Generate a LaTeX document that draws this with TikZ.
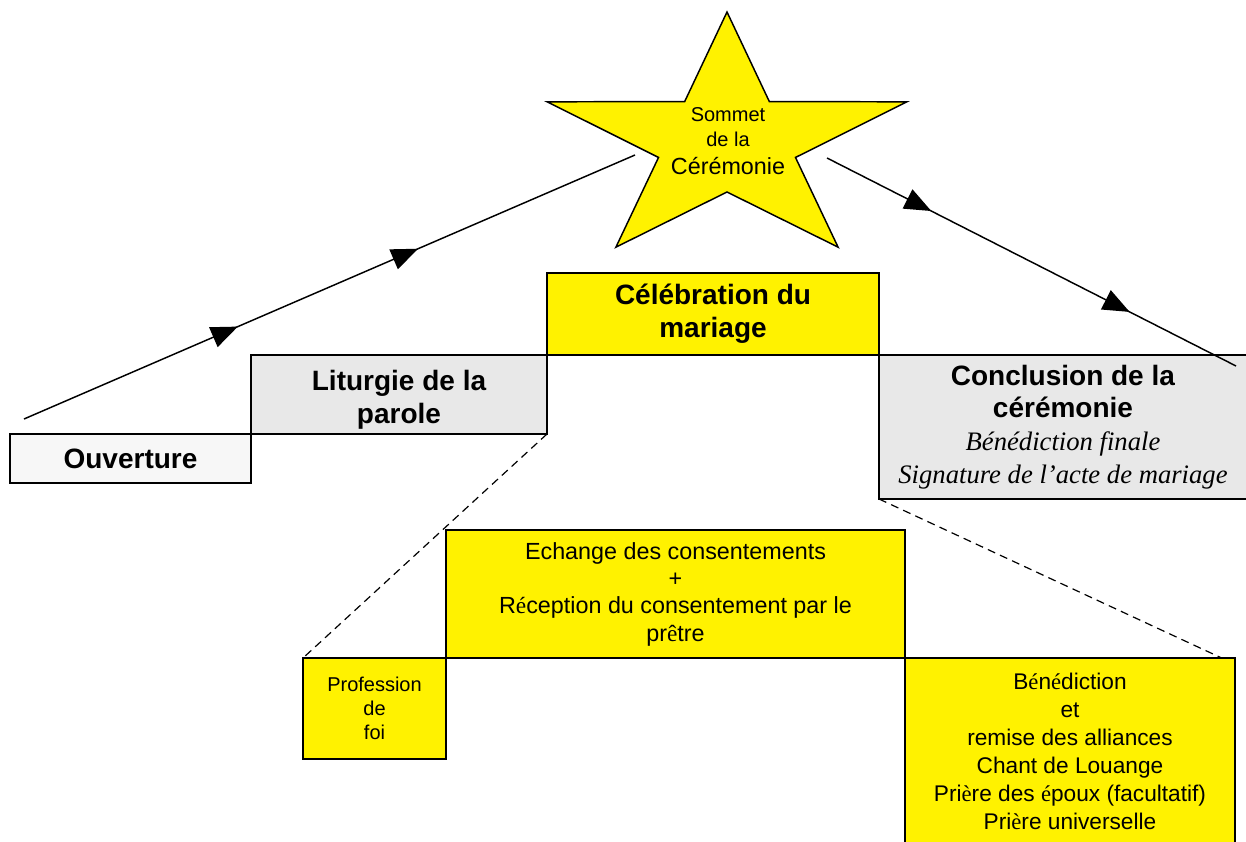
\documentclass[tikz,border=0pt]{standalone}
\usepackage{fontspec}
\setmainfont{Liberation Sans}
\newfontfamily\tnr{Liberation Serif}
\usepackage{tikz}
\usetikzlibrary{arrows.meta,decorations.markings}
\usetikzlibrary{positioning}
\newcommand{\acc}[1]{{\tnr #1}}
\newcommand{\bas}[1]{\raisebox{-3.75pt}[\height][\depth]{#1}}

\begin{document}
\begin{tikzpicture}[x=0.75pt,y=-0.75pt,semithick]
	\tikzstyle{etape}=[draw, line width=1pt, inner sep=0pt, outer sep=0pt, align=center]
	\tikzstyle{jaune}=[etape, fill=yellow]
	\tikzstyle{gris}=[etape, fill=gray!18]
	\tikzstyle{titre}=[font=\fontsize{21}{24.5}\selectfont\bfseries]
	\tikzstyle{pointille}=[line width=0.9pt, dash pattern=on 6pt off 4pt]
	\tikzset{pointe/.tip={Triangle[length=20pt,width=16pt]}}
	\useasboundingbox (0,0) rectangle (1246,842);

		% les etapes du haut
		\node[gris, fill=gray!6, titre, anchor=north west, minimum width=180.75pt, minimum height=36.75pt] (ouverture) at (10,434) {Ouverture};
		\node[gris, titre, anchor=south west, minimum width=222pt, minimum height=59.25pt] (liturgie) at (ouverture.north east) {\bas{Liturgie de la}\\\bas{parole}};
		\node[jaune, titre, anchor=south west, minimum width=249pt, minimum height=61.5pt] (celebration) at (liturgie.north east) {Célébration du\\mariage};
		\node[gris, font=\fontsize{21}{24.5}\selectfont, anchor=north west, minimum width=276pt, minimum height=108pt] (conclusion) at (celebration.south east)
			{\textbf{Conclusion de la}\\\textbf{cérémonie}\\{\tnr\itshape\fontsize{20}{24}\selectfont Bénédiction finale}\\{\tnr\itshape\fontsize{20}{24}\selectfont Signature de l’acte de mariage}};

		% le detail de la celebration
		\node[jaune, anchor=north west, font=\fontsize{17.5}{20.5}\selectfont, minimum width=344.25pt, minimum height=96pt] (echange) at (446,530)
			{Echange des consentements\\+\\R\acc{é}ception du consentement par le\\pr\acc{ê}tre};
		\node[jaune, font=\fontsize{15}{18}\selectfont, anchor=north east, minimum width=107.25pt, minimum height=75.75pt] (profession) at (echange.south west) {Profession\\de\\foi};
		\node[jaune, font=\fontsize{17}{21}\selectfont, anchor=north west, minimum width=247.5pt, minimum height=139.5pt] (benediction) at (echange.south east)
			{B\acc{é}n\acc{é}diction\\et\\remise des alliances\\Chant de Louange\\Pri\acc{è}re des \acc{é}poux (facultatif)\\Pri\acc{è}re universelle};

		% l'etoile
		\filldraw[fill=yellow, line width=1.1pt, shift={(727,142)}] (-90:189 and 130)
			\foreach \k in {0,...,4}{ -- (-54+72*\k:72 and 50) -- (-18+72*\k:189 and 130)} -- cycle;
		\node[align=center, font=\fontsize{15}{19}\selectfont] (sommet) at (728,141)
			{Sommet\\de la\\[2pt]{\fontsize{17.5}{21}\selectfont Cérémonie}};

		% la montee et la descente
		\coordinate (g1) at (24,419);
		\coordinate (g2) at (635,155);
		\coordinate (d1) at (827,158);
		\coordinate (d2) at (1236,366);
		\draw[line width=1.1pt, postaction={decorate}, decoration={markings,
			mark=at position 0.35 with {\arrow{pointe}}, mark=at position 0.645 with {\arrow{pointe}}}] (g1) -- (g2);
		\draw[line width=1.1pt, postaction={decorate}, decoration={markings,
			mark=at position 0.255 with {\arrow{pointe}}, mark=at position 0.74 with {\arrow{pointe}}}] (d1) -- (d2);

		\draw[pointille] (liturgie.south east) -- (profession.north west);
		\draw[pointille] (conclusion.south west) -- ([xshift=-10pt]benediction.north east);
\end{tikzpicture}
\end{document}
